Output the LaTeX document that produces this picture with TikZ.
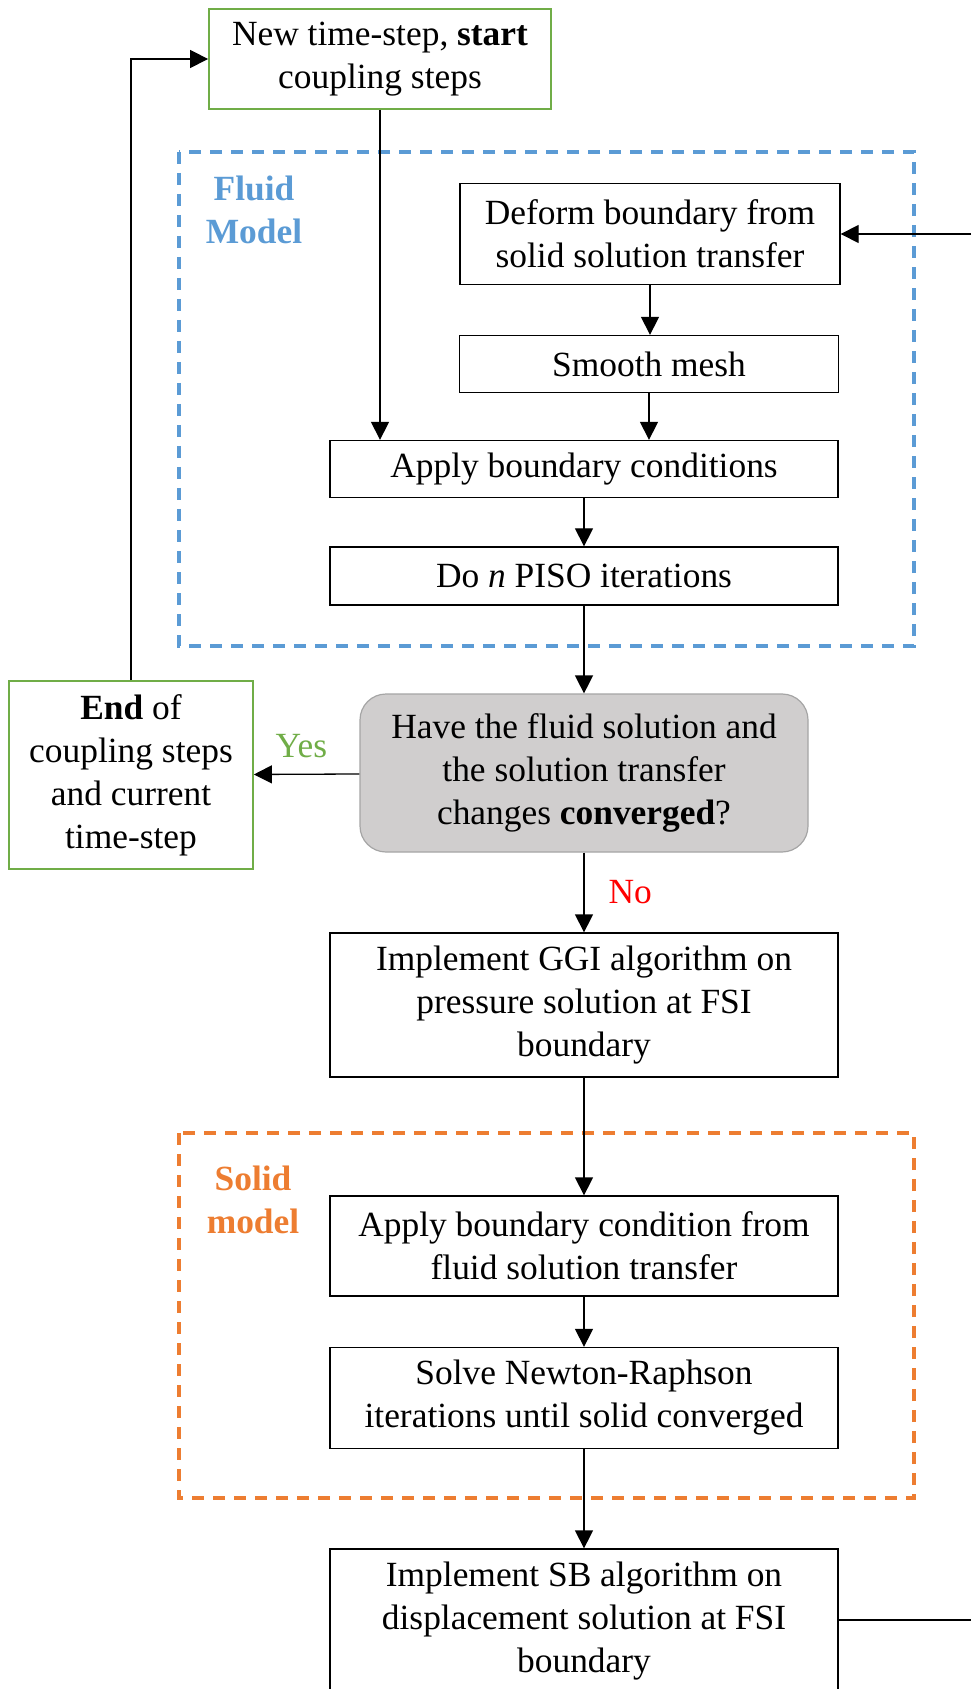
\documentclass[tikz,border=0pt]{standalone}
\usepackage{fontspec}
\setmainfont{Liberation Serif}
\usepackage{tikz}
\usetikzlibrary{arrows.meta}
\definecolor{fsigreen}{HTML}{70AD47}
\definecolor{fsiblue}{HTML}{5B9BD5}
\definecolor{fsiorange}{HTML}{ED7D31}
\definecolor{fsigray}{HTML}{D0CECE}
\definecolor{fsiedge}{HTML}{A5A5A5}

\begin{document}
\begin{tikzpicture}[x=0.5pt,y=-0.5pt,
  every node/.style={font=\fontsize{17.7}{21.5}\selectfont,align=center,inner sep=2pt},
  stepbox/.style={rectangle,draw,line width=0.65pt},
  termbox/.style={rectangle,draw=fsigreen,line width=0.9pt},
  askbox/.style={rectangle,rounded corners=13pt,draw=fsiedge,fill=fsigray,line width=0.6pt},
  model/.style={dash pattern=on 6pt off 4.5pt,line width=1.8pt},
  flow/.style={-{Triangle[length=9pt,width=9pt]},line width=0.65pt}]
\useasboundingbox (0,0) rectangle (971,1689);

% model frames
\draw[model,draw=fsiblue] (179,152) rectangle (914,646);
\draw[model,draw=fsiorange] (179,1133) rectangle (914,1498);
\node[text=fsiblue,font=\fontsize{17.7}{21.5}\selectfont\bfseries] (fluidlbl) at (254,210) {Fluid\\Model};
\node[text=fsiorange,font=\fontsize{17.7}{21.5}\selectfont\bfseries] (solidlbl) at (253,1200) {Solid\\model};

% steps
\node[termbox,minimum width=171pt,minimum height=50pt] (start) at (380,59) {New time-step, \textbf{start}\\coupling steps};
\node[stepbox,minimum width=190pt,minimum height=50.5pt] (deform) at (650,234) {Deform boundary from\\solid solution transfer};
\node[stepbox,minimum width=189.5pt,minimum height=28.5pt] (smooth) at (649,364) {Smooth mesh};
\node[stepbox,minimum width=254pt,minimum height=28.5pt] (applyf) at (584,469) {Apply boundary conditions};
\node[stepbox,minimum width=254pt,minimum height=29pt] (piso) at (584,576) {Do \textit{n} PISO iterations};
\node[askbox,minimum width=224pt,minimum height=79pt] (decide) at (584,773) {Have the fluid solution and\\the solution transfer\\changes \textbf{converged}?};
\node[termbox,minimum width=122pt,minimum height=94pt] (endbox) at (131,775) {\textbf{End} of\\coupling steps\\and current\\time-step};
\node[stepbox,minimum width=254pt,minimum height=72pt] (ggi) at (584,1005) {Implement GGI algorithm on\\pressure solution at FSI\\boundary};
\node[stepbox,minimum width=254pt,minimum height=50pt] (applys) at (584,1246) {Apply boundary condition from\\fluid solution transfer};
\node[stepbox,minimum width=254pt,minimum height=50.5pt] (solve) at (584,1398) {Solve Newton-Raphson\\iterations until solid converged};
\node[stepbox,minimum width=254pt,minimum height=72pt] (sb) at (584,1621) {Implement SB algorithm on\\displacement solution at FSI\\boundary};

% loose ends of the feedback loop
\coordinate (fbin) at (971,234);
\coordinate (fbout) at (971,1620);

% connectors
\draw[flow] (start.south) -- (start.south |- applyf.north);
\draw[flow] (deform.south) -- (deform.south |- smooth.north);
\draw[flow] (smooth.south) -- (smooth.south |- applyf.north);
\draw[flow] (applyf) -- (piso);
\draw[flow] (piso) -- (decide);
\draw[flow] (decide) -- (endbox) node[pos=0.55,above=6pt,text=fsigreen] (yes) {Yes};
\draw[flow] (decide) -- (ggi) node[midway,right=10pt,text=red] (no) {No};
\draw[flow] (ggi) -- (applys);
\draw[flow] (applys) -- (solve);
\draw[flow] (solve) -- (sb);
\draw[flow] (endbox.north) |- (start.west);
\draw[flow] (fbin) -- (deform.east);
\draw[line width=0.65pt] (sb.east |- fbout) -- (fbout);
\end{tikzpicture}
\end{document}
